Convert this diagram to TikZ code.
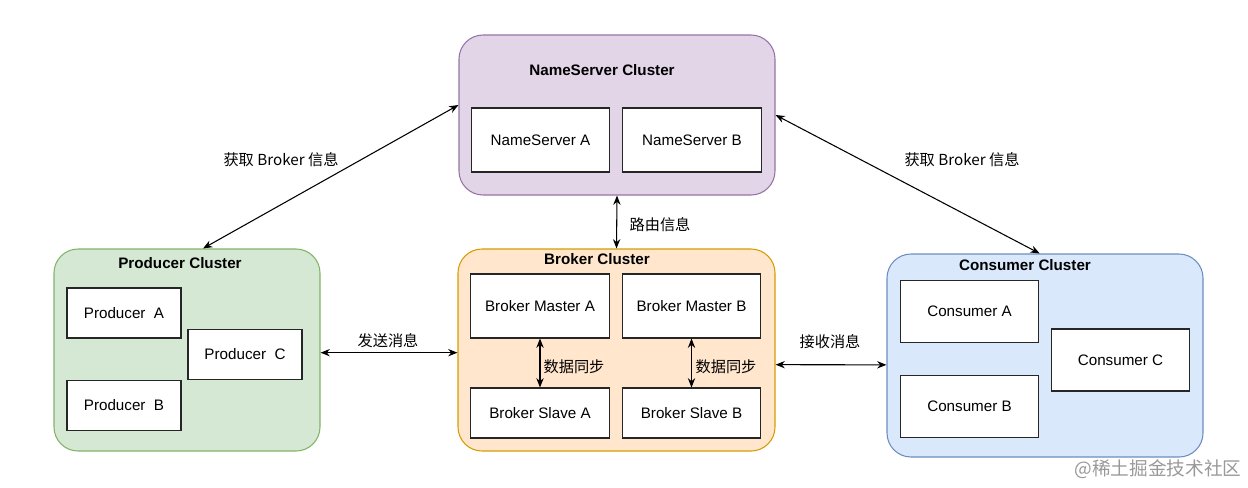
\documentclass[tikz,border=0pt]{standalone}
\usepackage{fontspec}
\setmainfont{Liberation Sans}
\newfontfamily\cjk{Noto Sans CJK SC}
\usetikzlibrary{arrows.meta}

\definecolor{nsfill}{HTML}{E1D5E7}
\definecolor{nsline}{HTML}{9673A6}
\definecolor{pfill}{HTML}{D5E8D4}
\definecolor{pline}{HTML}{82B366}
\definecolor{bfill}{HTML}{FFE6CC}
\definecolor{bline}{HTML}{D79B00}
\definecolor{cfill}{HTML}{DAE8FC}
\definecolor{cline}{HTML}{6C8EBF}

\tikzset{
	cluster/.style={draw, rounded corners=18pt, line width=0.8pt},
	box/.style={draw=black!85, fill=white, line width=0.8pt, minimum width=104pt, minimum height=48pt},
	smallbox/.style={box, minimum width=85.5pt, minimum height=37.5pt},
	ttl/.style={font=\fontsize{11.4}{13}\selectfont\bfseries},
	lbl/.style={font=\fontsize{11.4}{13}\selectfont\cjk},
	link/.style={{Stealth[length=7pt,width=5.5pt]}-{Stealth[length=7pt,width=5.5pt]}, line width=0.8pt}
}

\begin{document}
\begin{tikzpicture}[x=0.75pt,y=-0.75pt, every node/.style={font=\fontsize{11.4}{13}\selectfont}]
	\useasboundingbox (0,0) rectangle (1248,487);

	% clusters
	\node[cluster, fill=nsfill, draw=nsline, minimum width=237pt, minimum height=120pt] (ns) at (617,115) {};
	\node[cluster, fill=pfill, draw=pline, minimum width=199.5pt, minimum height=151.5pt] (prod) at (187,350) {};
	\node[cluster, fill=bfill, draw=bline, minimum width=237.75pt, minimum height=151.5pt] (brk) at (616.5,350) {};
	\node[cluster, fill=cfill, draw=cline, minimum width=237pt, minimum height=152.25pt] (cons) at (1045,355.5) {};

	\node[ttl] (nsttl) at (602,70) {NameServer Cluster};
	\node[ttl] (prodttl) at (180,263) {Producer Cluster};
	\node[ttl] (brkttl) at (597,259) {Broker Cluster};
	\node[ttl] (consttl) at (1025,265) {Consumer Cluster};

	% nameserver
	\node[box] (nsa) at (540.5,140) {NameServer A};
	\node[box] (nsb) at (692,140) {NameServer B};

	% producers
	\node[smallbox] (pa) at (124,313) {Producer\ \ A};
	\node[smallbox] (pc) at (245,354.5) {Producer\ \ C};
	\node[smallbox] (pb) at (124,405.5) {Producer\ \ B};

	% brokers
	\node[box] (ma) at (540,306) {Broker Master A};
	\node[box] (mb) at (691.5,306) {Broker Master B};
	\node[box, minimum height=37.5pt] (sa) at (540,413) {Broker Slave A};
	\node[box, minimum height=37.5pt] (sb) at (691.5,413) {Broker Slave B};

	% consumers
	\node[box, minimum height=47pt] (ca) at (969.5,311.5) {Consumer A};
	\node[box, minimum height=47pt] (cb) at (969.5,406.5) {Consumer B};
	\node[box, minimum height=46.5pt] (cc) at (1120.5,360) {Consumer C};

	% connectors
	\draw[link] ([yshift=7.5pt]ns.west) -- ([xshift=12pt]prod.north);
	\draw[link] (ns.east) -- ([xshift=-4pt]cons.north);
	\draw[link] (ns.south) -- (brk.north);
	\draw[link] ([yshift=-2pt]prod.east) -- ([yshift=-2pt]brk.west);
	\draw[link] ([yshift=-11pt]brk.east) -- ([yshift=-7pt]cons.west);
	\draw[link] (ma.south) -- (sa.north);
	\draw[link] (mb.south) -- (sb.north);

	\node[lbl] (l1) at (281,160) {获取 Broker 信息};
	\node[lbl] (l2) at (962,160) {获取 Broker 信息};
	\node[lbl] (l3) at (660,225) {路由信息};
	\node[lbl] (l4) at (388,341) {发送消息};
	\node[lbl] (l5) at (830,342) {接收消息};
	\node[lbl] (l6) at (574,367) {数据同步};
	\node[lbl] (l7) at (726,367) {数据同步};

	\node[font=\fontsize{14}{16}\selectfont\cjk, text=black!40] (wm) at (1158,469) {@稀土掘金技术社区};
\end{tikzpicture}
\end{document}
